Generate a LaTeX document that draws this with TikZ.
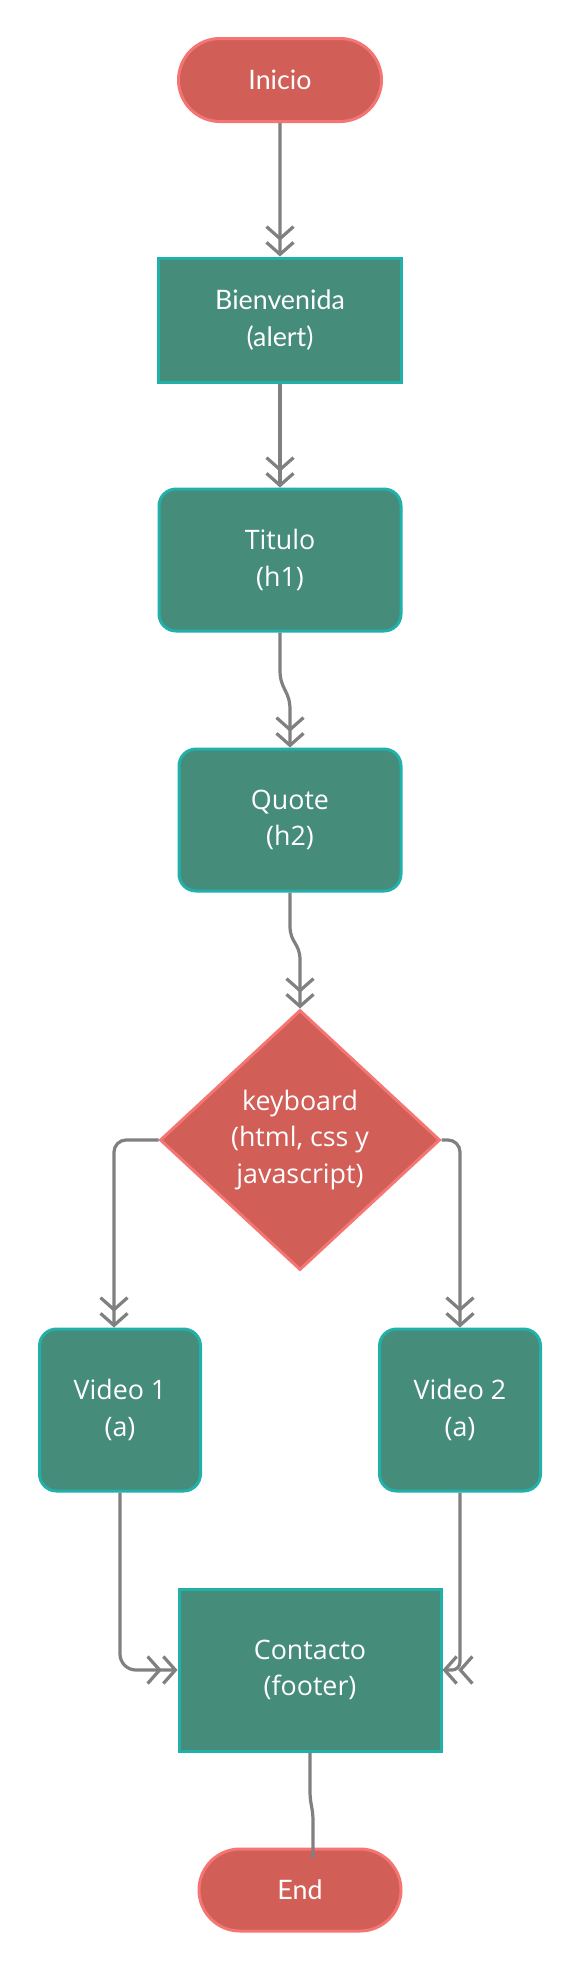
\documentclass[tikz,border=0pt]{standalone}
\usepackage{fontspec}
\setmainfont{Open Sans}
\newfontfamily\latofont{Lato}
\usetikzlibrary{arrows.meta,shapes.geometric,shapes.misc}
\definecolor{redfill}{HTML}{D25E58}
\definecolor{redline}{HTML}{F57573}
\definecolor{greenfill}{HTML}{458C7A}
\definecolor{tealline}{HTML}{22B0AA}
\definecolor{connline}{HTML}{808080}
\tikzset{
  base/.style={text=white, line width=1.5pt, align=center, inner sep=0pt,
    font=\fontsize{13.4}{18.3}\selectfont},
  term/.style={base, rounded rectangle, fill=redfill, draw=redline},
  procbox/.style={base, rectangle, fill=greenfill, draw=tealline},
  rprocbox/.style={procbox, rounded corners=8.5pt},
  decbox/.style={base, diamond, fill=redfill, draw=redline, minimum width=140pt, minimum height=130pt},
  conn/.style={draw=connline, line width=1.6pt,
    -{Straight Barb[length=6pt,width=13.5pt]Straight Barb[length=6pt,width=13.5pt]}},
  plainconn/.style={draw=connline, line width=1.6pt},
}
\begin{document}
\begin{tikzpicture}[x=0.5pt,y=-0.5pt]
\fill[white] (0,0) rectangle (580,1970);
\useasboundingbox (0,0) rectangle (580,1970);

\node[term, minimum width=101.5pt, minimum height=41.5pt, font=\latofont\fontsize{13.4}{18.3}\selectfont] (inicio) at (280,80) {Inicio};
\node[procbox, minimum width=121.5pt, minimum height=62pt, font=\latofont\fontsize{13.4}{18.3}\selectfont] (bien) at (280,320) {Bienvenida\\(alert)};
\node[rprocbox, minimum width=121pt, minimum height=71pt] (titulo) at (280,560) {Titulo\\(h1)};
\node[rprocbox, minimum width=111pt, minimum height=71pt] (quote) at (290,820) {Quote\\(h2)};
\node[decbox] (dec) at (300,1140) {keyboard\\(html, css y\\javascript)};
\node[rprocbox, minimum width=80.5pt, minimum height=81pt] (v1) at (120,1410) {Video 1\\(a)};
\node[rprocbox, minimum width=80.5pt, minimum height=81pt] (v2) at (460,1410) {Video 2\\(a)};
\node[procbox, minimum width=131pt, minimum height=81pt] (contacto) at (310,1670) {Contacto\\(footer)};
\node[term, minimum width=101pt, minimum height=41pt, font=\latofont\fontsize{13.4}{18.3}\selectfont] (end) at (300,1890) {End};

\coordinate (t1) at (280,670);
\coordinate (t2) at (290,710);
\coordinate (q1) at (290,926);
\coordinate (q2) at (300,960);
\coordinate (c1) at (310,1790);
\coordinate (c2) at (313,1822);
\coordinate (e1) at (313,1858);

\draw[conn] (inicio) -- (bien);
\draw[conn] (bien) -- (titulo);
\draw[conn] (titulo.south) -- (t1) .. controls (280,690) and (290,690) .. (t2) -- (quote.north);
\draw[conn] (quote.south) -- (q1) .. controls (290,943) and (300,943) .. (q2) -- (dec.north);
\draw[conn, rounded corners=6pt] (dec.west) -| ([xshift=-3pt]v1.north);
\draw[conn, rounded corners=6pt] (dec.east) -| (v2.north);
\draw[conn, rounded corners=8pt] (v1.south) |- (contacto.west);
\draw[conn, rounded corners=4pt] (v2.south) |- (contacto.east);
\draw[plainconn] (contacto.south) -- (c1) .. controls (310,1806) and (313,1806) .. (c2) -- (e1);
\end{tikzpicture}
\end{document}
